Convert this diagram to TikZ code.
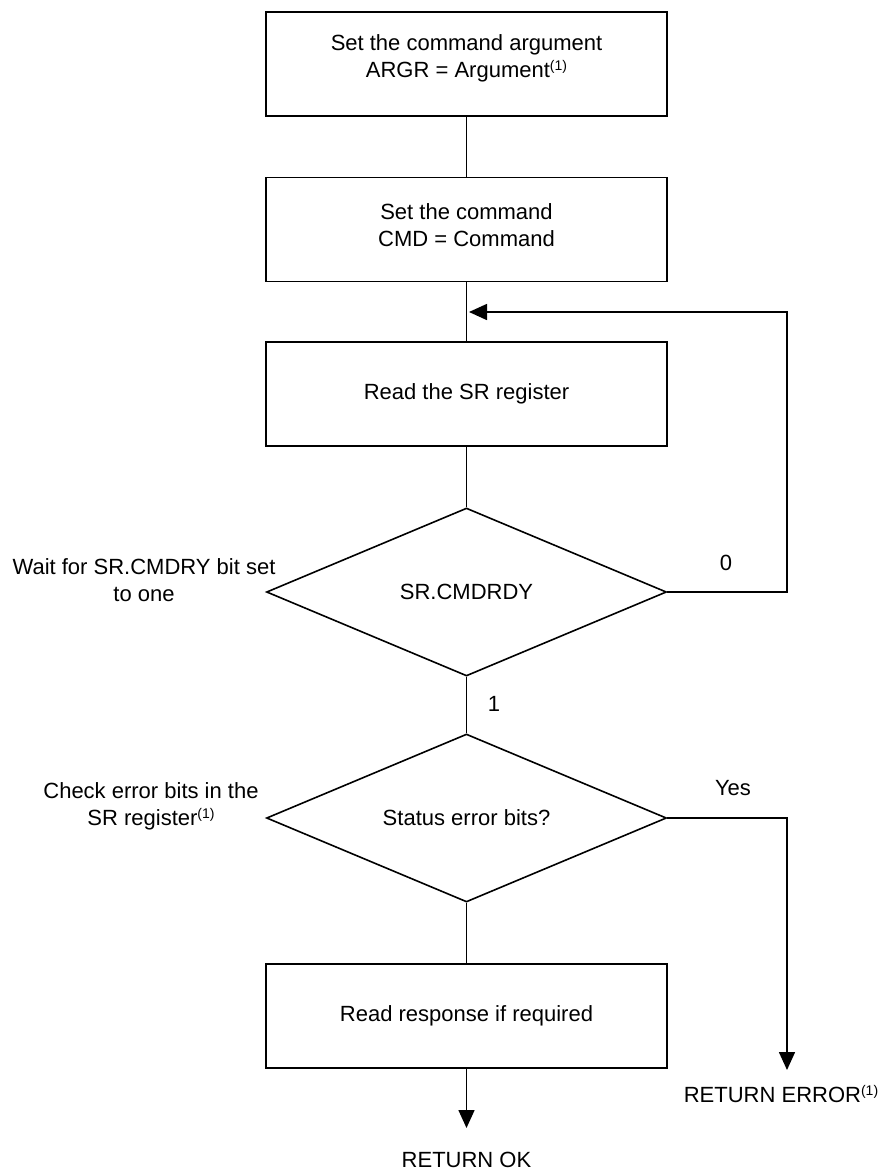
\documentclass[tikz,border=0pt]{standalone}
\usepackage{fontspec}
\setmainfont{Liberation Sans}
\usetikzlibrary{shapes.geometric,arrows.meta}
\newcommand\fnmark{\raisebox{6.5pt}{\fontsize{14}{14}\selectfont(1)}}
\begin{document}
\begin{tikzpicture}[x=1pt,y=-1pt,
  every node/.style={font=\fontsize{22}{27}\selectfont, text=black},
  stepbox/.style={draw, line width=1.6pt, rectangle, minimum width=401pt, minimum height=104pt, inner sep=0pt},
  decision/.style={draw, line width=1.6pt, diamond, aspect=2.38, minimum width=400pt, minimum height=168pt, inner sep=0pt},
  txt/.style={align=center, inner sep=0pt},
  conn/.style={line width=1.6pt},
  arr/.style={line width=1.6pt, -{Triangle[length=18pt,width=16pt]}}]
\useasboundingbox (0,0) rectangle (882,1173);

% boxes
\node[stepbox] (b1) at (466.5,64) {};
\node[txt] (t1) at (466.5,58) {Set the command argument\\ARGR = Argument\fnmark};
\node[stepbox] (b2) at (466.5,229.5) {};
\node[txt] (t2) at (466.5,225) {Set the command\\CMD = Command};
\node[stepbox] (b3) at (466.5,394) {Read the SR register};
\node[decision] (d1) at (466.5,592) {SR.CMDRDY};
\node[decision] (d2) at (466.5,818) {Status error bits?};
\node[stepbox] (b4) at (466.5,1016) {Read response if required};

% side labels
\node[txt] (w) at (144,580) {Wait for SR.CMDRY bit set\\to one};
\node[txt] (c) at (151,806) {Check error bits in the\\SR register\fnmark};
\node[txt] (l0) at (726,563) {0};
\node[txt] (l1) at (494,704) {1};
\node[txt] (ly) at (733,788) {Yes};

% end labels
\node[txt] (rok) at (466.5,1160) {RETURN OK};
\node[txt] (rerr) at (781,1094) {RETURN ERROR\fnmark};

% coordinates
\coordinate (lp) at (787,312);
\coordinate (lj) at (469,312);
\coordinate (okc) at (466.5,1128);
\coordinate (errc) at (787,1070);

% connectors
\draw[conn] (b1.south) -- (b2.north);
\draw[conn] (b2.south) -- (b3.north);
\draw[conn] (b3.south) -- (d1.north);
\draw[arr] (d1.east) -| (lp) -- (lj);
\draw[conn] (d1.south) -- (d2.north);
\draw[conn] (d2.south) -- (b4.north);
\draw[arr] (b4.south) -- (okc);
\draw[arr] (d2.east) -| (errc);
\end{tikzpicture}
\end{document}
